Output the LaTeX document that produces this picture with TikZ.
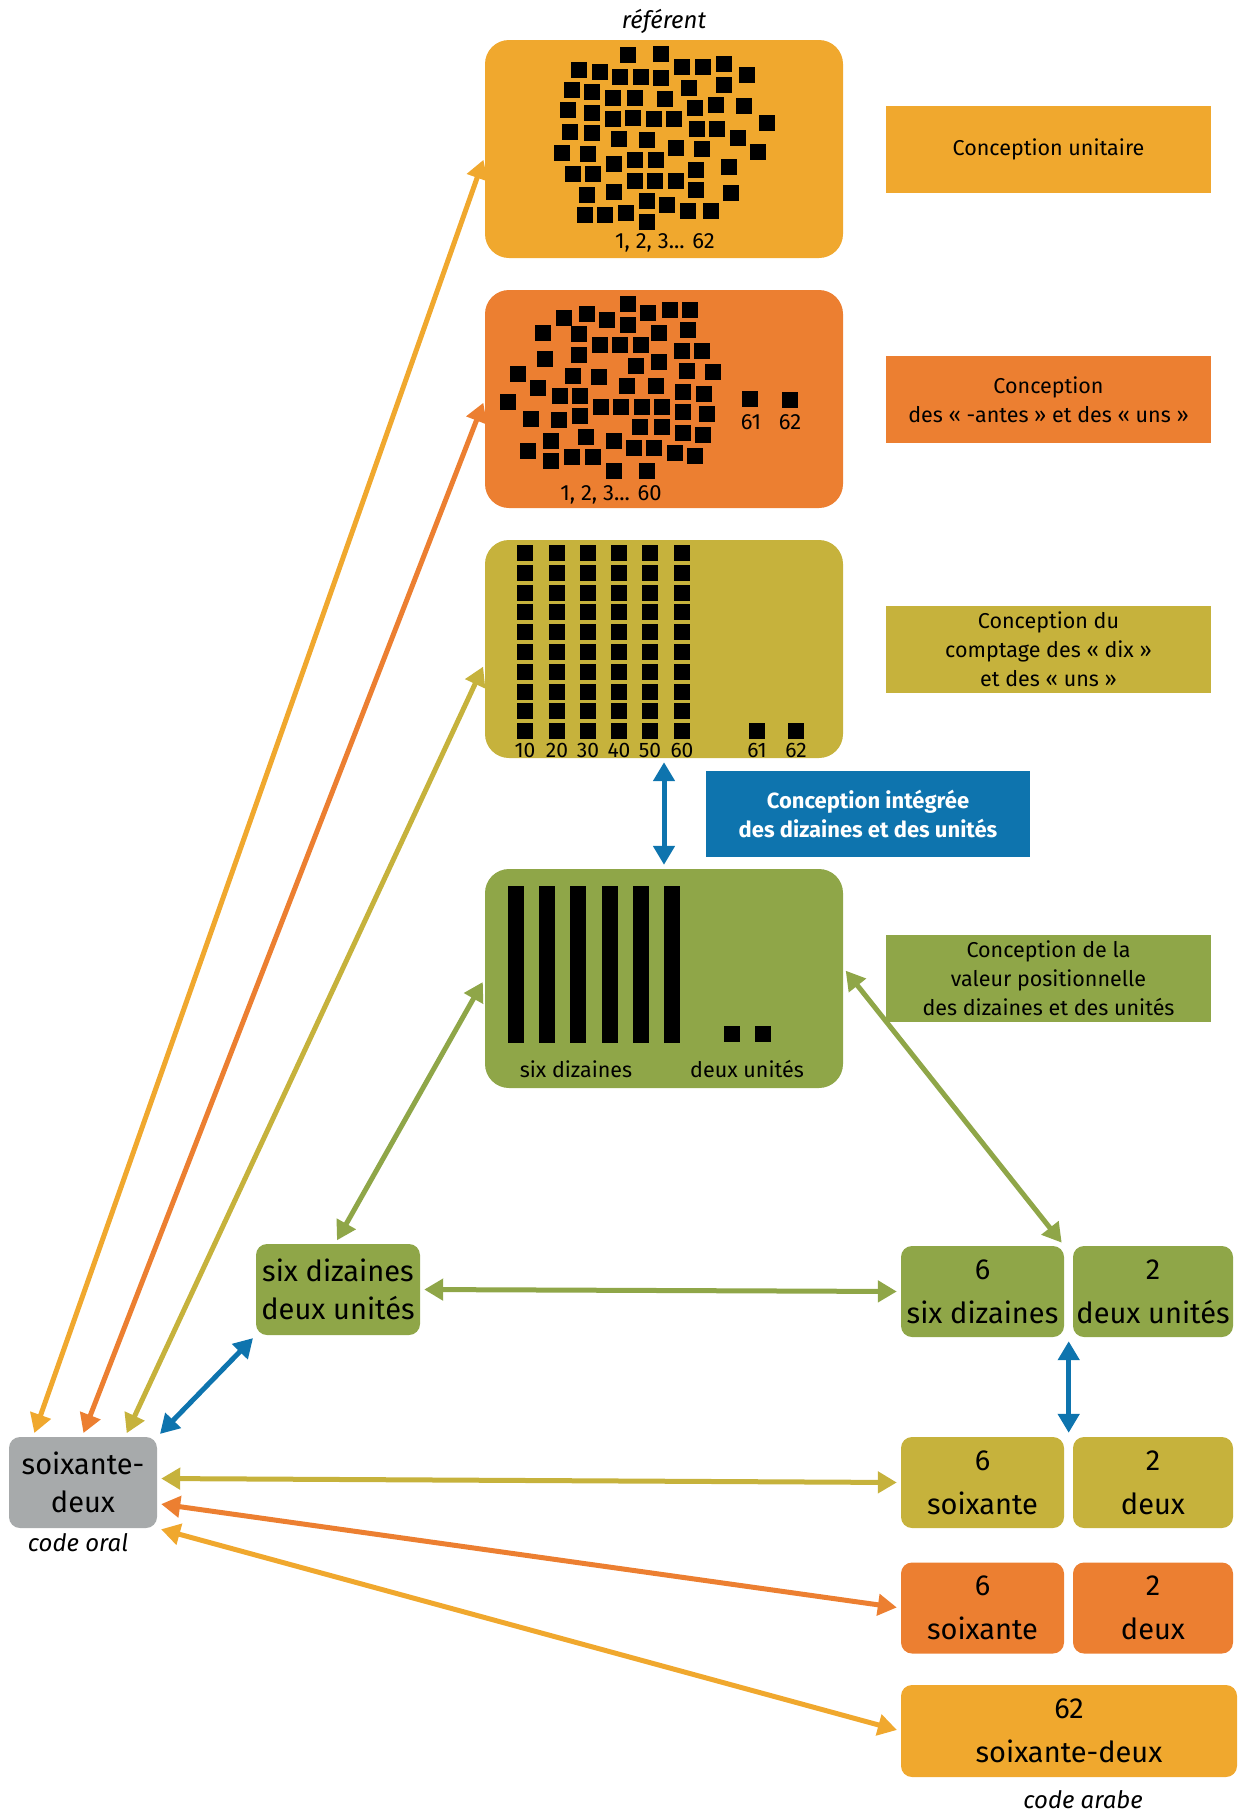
\documentclass[tikz,border=0pt]{standalone}
\usepackage{fontspec}
\setmainfont{Fira Sans}
\usepackage{tikz}
\usetikzlibrary{arrows.meta}
\definecolor{Saffron}{RGB}{240, 168, 46}
\definecolor{Tangerine}{RGB}{236, 127, 49}
\definecolor{Mustard}{RGB}{198, 178, 60}
\definecolor{Moss}{RGB}{143, 166, 72}
\definecolor{Ocean}{RGB}{14, 116, 174}
\definecolor{Ash}{RGB}{167, 170, 171}

\begin{document}
\begin{tikzpicture}[
    x=1pt, y=-1pt,
    card/.style={rectangle, rounded corners=24pt, fill=#1, minimum width=358pt, minimum height=218pt, inner sep=0pt},
    tag/.style={rectangle, fill=#1, minimum width=325pt, minimum height=87pt, inner sep=0pt, align=center, font=\fontsize{21.5}{29}\selectfont},
    cell/.style={rectangle, rounded corners=11pt, fill=#1, minimum height=91pt, inner sep=0pt, align=center, font=\fontsize{29}{44}\selectfont},
    numlabel/.style={font=\fontsize{22}{24}\selectfont, inner sep=0pt},
    gloss/.style={font=\fontsize{24}{28}\selectfont\itshape, inner sep=0pt},
    link/.style={{Triangle[length=19pt, width=21pt]}-{Triangle[length=19pt, width=21pt]}, line width=5pt, color=#1, shorten >=4pt, shorten <=4pt}
]
    \useasboundingbox (0,0) rectangle (1240,1813);

    % Referent cards
    \node[gloss] (referent) at (664,21) {référent};
    \node[card=Saffron] (unit) at (664,149) {};
    \node[card=Tangerine] (antes) at (664,399) {};
    \node[card=Mustard] (dix) at (664,649) {};
    \node[card=Moss, minimum height=219pt] (posit) at (664,978.5) {};

    % Card 1: 62 loose squares
    \foreach \x/\y in {628/55, 661/54, 579/70, 600/72, 620/77, 641/77, 661/78, 682/67, 703/67, 724/64, 747/75,
        572/90, 592/92, 689/88, 724/85, 613/98, 635/98, 665/99, 568/110, 592/113, 695/108, 716/105, 744/106,
        613/119, 633/118, 654/119, 674/119, 767/123, 570/132, 592/133, 697/129, 717/129, 619/139, 647/140, 738/138,
        562/153, 588/154, 676/148, 702/149, 758/152, 614/164, 635/160, 656/160, 573/174, 593/174, 696/170, 729/167,
        635/181, 655/181, 676/181, 587/195, 614/192, 696/190, 731/193, 647/201, 667/205, 585/215, 605/215, 626/213,
        688/211, 711/211, 647/222}
        \fill (\x-8,\y-8) rectangle ++(16,16);
    \node[numlabel] (unitnum) at (665,243) {1, 2, 3... 62};

    % Card 2: 60 squares, then 61 and 62
    \foreach \x/\y in {628/304, 564/318, 587/314, 607/320, 648/313, 670/310, 690/310, 543/333, 579/334, 628/325,
        659/333, 688/330, 600/345, 620/345, 641/345, 682/351, 702/351, 545/359, 579/355, 636/366, 659/362, 687/371,
        713/372, 518/374, 573/376, 599/377, 538/388, 627/386, 656/386, 508/402, 560/396, 580/396, 683/392, 704/394,
        531/419, 559/420, 580/416, 601/407, 621/407, 642/407, 662/407, 683/412, 707/414, 640/427, 662/427, 683/433,
        703/435, 528/451, 551/441, 586/437, 614/441, 634/448, 654/448, 675/453, 695/456, 551/461, 572/457, 593/457,
        614/471, 647/471}
        \fill (\x-8,\y-8) rectangle ++(16,16);
    \fill (742,391) rectangle ++(16,16);
    \fill (782,392) rectangle ++(16,16);
    \node[numlabel] (antesnum) at (611,495) {1, 2, 3... 60};
    \node[numlabel] (antes61) at (751,422) {61};
    \node[numlabel] (antes62) at (790,422) {62};

    % Card 3: six columns of ten
    \foreach \c/\n in {525/10, 557/20, 588/30, 619/40, 650/50, 682/60} {
        \foreach \r in {0,...,9}
            \fill (\c-8,545+19.8*\r) rectangle ++(16,16);
        \node[numlabel, font=\fontsize{21}{24}\selectfont] (dix\n) at (\c,750) {\n};
    }
    \fill (749,723) rectangle ++(16,16);
    \fill (788,723) rectangle ++(16,16);
    \node[numlabel, font=\fontsize{21}{24}\selectfont] (dix61) at (757,750) {61};
    \node[numlabel, font=\fontsize{21}{24}\selectfont] (dix62) at (796,750) {62};

    % Card 4: six bars and two units
    \foreach \c in {516, 547, 578, 610, 641, 672}
        \fill (\c-8,886) rectangle (\c+8,1043);
    \fill (724,1026) rectangle ++(16,16);
    \fill (755,1026) rectangle ++(16,16);
    \node[numlabel, font=\fontsize{21.5}{24}\selectfont] (positten) at (576,1069) {six dizaines};
    \node[numlabel, font=\fontsize{21.5}{24}\selectfont] (positone) at (747,1069) {deux unités};

    % Conception tags
    \node[tag=Saffron] (tunit) at (1048.5,149.5) {Conception unitaire};
    \node[tag=Tangerine] (tantes) at (1048.5,399.5) {Conception\\des «~-antes~» et des «~uns~»};
    \node[tag=Mustard] (tdix) at (1048.5,649.5) {Conception du\\comptage des «~dix~»\\et des «~uns~»};
    \node[tag=Ocean, text=white, minimum width=324pt, minimum height=86pt, font=\fontsize{22}{29}\selectfont\bfseries] (tinteg) at (868,814) {Conception intégrée\\des dizaines et des unités};
    \node[tag=Moss] (tposit) at (1048.5,978.5) {Conception de la\\valeur positionnelle\\des dizaines et des unités};

    % Written and spoken codes
    \node[cell=Moss, minimum width=164pt, font=\fontsize{29}{38}\selectfont] (words) at (338,1289.5) {six dizaines\\deux unités};
    \node[cell=Moss, minimum width=163pt] (sixdiz) at (982.5,1291.5) {6\\six dizaines};
    \node[cell=Moss, minimum width=160pt] (deuxun) at (1153,1291.5) {2\\deux unités};
    \node[cell=Mustard, minimum width=163pt] (sixante) at (982.5,1482.5) {6\\soixante};
    \node[cell=Mustard, minimum width=160pt] (deux) at (1153,1482.5) {2\\deux};
    \node[cell=Tangerine, minimum width=163pt] (sixanteb) at (982.5,1608) {6\\soixante};
    \node[cell=Tangerine, minimum width=160pt] (deuxb) at (1153,1608) {2\\deux};
    \node[cell=Saffron, minimum width=336pt, minimum height=92pt] (arabic) at (1069,1731) {62\\soixante-deux};
    \node[gloss] (arabcap) at (1083,1800) {code arabe};
    \node[cell=Ash, minimum width=148pt, font=\fontsize{29}{38}\selectfont] (oral) at (83,1482.5) {soixante-\\deux};
    \node[gloss] (oralcap) at (78,1543) {code oral};

    % Links
    \draw[link=Saffron] ([xshift=-50pt]oral.north) -- ([yshift=-7pt]unit.west);
    \draw[link=Tangerine] ([xshift=-1pt]oral.north) -- (antes.west);
    \draw[link=Mustard] ([xshift=42pt]oral.north) -- ([yshift=-14pt]dix.west);
    \draw[link=Ocean] (oral.north east) -- (words.south west);
    \draw[link=Moss] (posit.west) -- ([xshift=-3pt]words.north);
    \draw[link=Moss] ([yshift=11pt]posit.east) -- (sixdiz.north east);
    \draw[link=Moss] (words.east) -- (sixdiz.west);
    \draw[link=Ocean] (dix.south) -- (posit.north);
    \draw[link=Ocean] ([xshift=4.5pt]sixdiz.south east) -- ([xshift=4.5pt]sixante.north east);
    \draw[link=Mustard] ([yshift=4pt]oral.east) -- (sixante.west);
    \draw[link=Tangerine] ([yshift=-21pt]oral.east) -- (sixanteb.west);
    \draw[link=Saffron] (oral.south east) -- (arabic.west);

\end{tikzpicture}
\end{document}
